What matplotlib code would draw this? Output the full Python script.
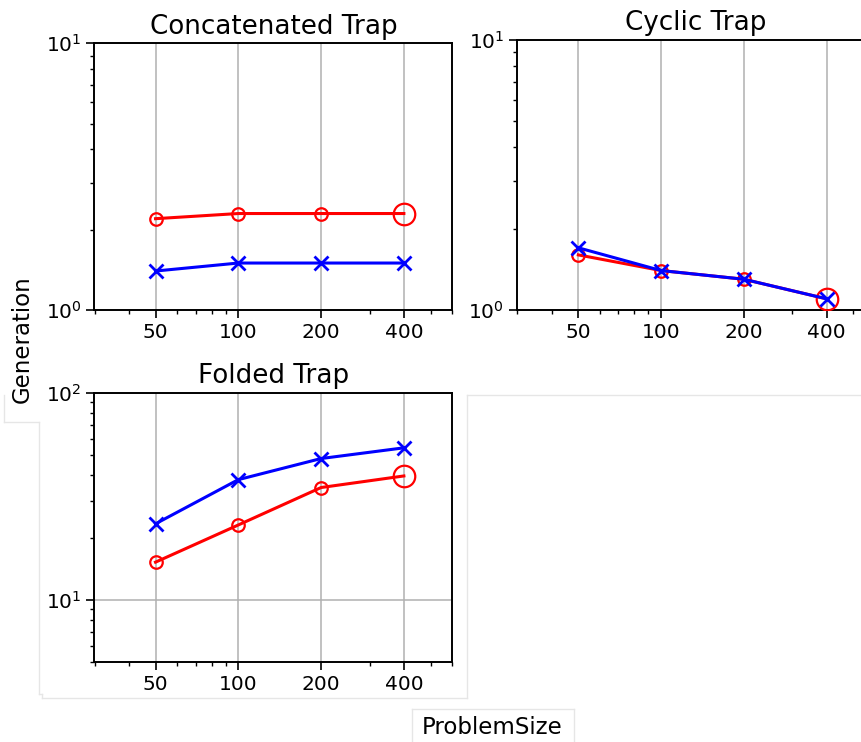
import matplotlib
matplotlib.use("Agg")
import matplotlib.pyplot as plt
from matplotlib.ticker import FixedLocator, ScalarFormatter, NullFormatter
from matplotlib.lines import Line2D

# Problem sizes on the x axis
problem_sizes = [50, 100, 200, 400]

# Mean generations to convergence (red: circles, blue: crosses)
concat_red = [2.2, 2.3, 2.3, 2.3]
concat_blue = [1.4, 1.5, 1.5, 1.5]

cyclic_red = [1.6, 1.4, 1.3, 1.1]
cyclic_blue = [1.7, 1.4, 1.3, 1.1]

folded_red = [15.2, 23.0, 34.9, 39.7]
folded_blue = [23.3, 38.1, 48.2, 54.3]

panel_titles = ["Concatenated Trap", "Cyclic Trap", "Folded Trap"]
panel_ylims = [(1, 10), (1, 10), (5, 100)]

W, H = 862, 742
fig = plt.figure(figsize=(W / 100, H / 100), dpi=100)


def frac_rect(x0, y0, x1, y1):
    """Pixel box (top-left origin) -> figure fraction [left, bottom, width, height]."""
    return [x0 / W, 1 - y1 / H, (x1 - x0) / W, (y1 - y0) / H]


ax1 = fig.add_axes(frac_rect(94.5, 43.3, 452.3, 310))
ax2 = fig.add_axes(frac_rect(517.3, 40, 875, 310))
ax3 = fig.add_axes(frac_rect(94.5, 393, 452.3, 662))

panels = [
    (ax1, concat_red, concat_blue),
    (ax2, cyclic_red, cyclic_blue),
    (ax3, folded_red, folded_blue),
]

for (ax, red, blue), title, ylim in zip(panels, panel_titles, panel_ylims):
    ax.set_xscale("log")
    ax.set_yscale("log")
    ax.plot(problem_sizes, red, color="#ff0000", lw=2.2, marker="o",
            mfc="none", mec="#ff0000", ms=9, mew=1.6, markevery=[0, 1, 2],
            zorder=3)
    ax.plot(problem_sizes[-1:], red[-1:], linestyle="none", marker="o",
            mfc="none", mec="#ff0000", ms=15.5, mew=1.6, zorder=3)
    ax.plot(problem_sizes, blue, color="#0000ff", lw=2.2, marker="x",
            ms=10, mew=2.0, zorder=4)

    ax.set_xlim(30, 600)
    ax.set_ylim(*ylim)
    ax.xaxis.set_major_locator(FixedLocator(problem_sizes))
    ax.xaxis.set_major_formatter(ScalarFormatter())
    ax.xaxis.set_minor_formatter(NullFormatter())
    ax.yaxis.set_minor_formatter(NullFormatter())
    ax.grid(True, which="major", color="#b0b0b0", lw=1.1, zorder=0)
    ax.set_title(title, fontsize=18.8, pad=7)
    ax.tick_params(which="major", length=5.5, width=1.2, labelsize=14.5, pad=4)
    ax.tick_params(which="minor", length=3, width=1.0)
    for sp in ax.spines.values():
        sp.set_linewidth(1.4)

fig.text(22.5 / W, 1 - 339 / H, "Generation", rotation=90, fontsize=16.5,
         ha="center", va="center")
fig.text(492.5 / W, 1 - 734 / H, "ProblemSize", fontsize=16.5,
         ha="center", va="baseline")

# faint panel frames
frame_color = "#e6e6e6"
frame_segments = [
    ((4, 395), (4, 422)),
    ((4, 422), (39, 422)),
    ((39, 422), (39, 694)),
    ((39, 694), (42, 694)),
    ((42, 694), (42, 698)),
    ((42, 698), (467, 698)),
    ((467, 395), (467, 698)),
    ((467, 395), (862, 395)),
    ((412, 709), (574, 709)),
    ((412, 709), (412, 742)),
    ((574, 709), (574, 742)),
]
for (xa, ya), (xb, yb) in frame_segments:
    fig.add_artist(Line2D([xa / W, xb / W], [1 - ya / H, 1 - yb / H],
                          transform=fig.transFigure, color=frame_color,
                          lw=1.0, zorder=0))

fig.savefig("out.png", dpi=100)
